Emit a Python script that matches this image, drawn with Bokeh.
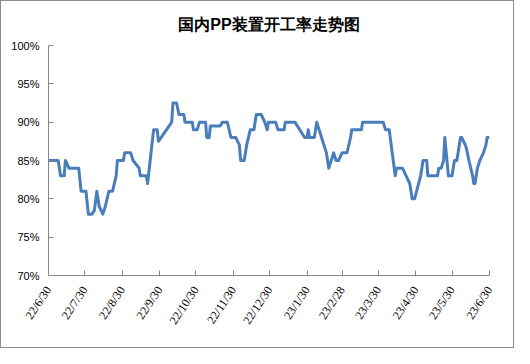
import pandas as pd
from bokeh.plotting import figure
from bokeh.models import ColumnDataSource, FixedTicker, Range1d
from bokeh.embed import file_html
from bokeh.resources import INLINE

title_text = "国内PP装置开工率走势图"

dates = [
    "2022-06-30", "2022-07-08", "2022-07-10", "2022-07-13", "2022-07-14", "2022-07-17",
    "2022-07-25", "2022-07-27", "2022-07-31", "2022-08-02", "2022-08-05", "2022-08-07",
    "2022-08-09", "2022-08-11", "2022-08-14", "2022-08-16", "2022-08-19", "2022-08-22",
    "2022-08-25", "2022-08-26", "2022-08-31", "2022-09-01", "2022-09-06", "2022-09-08",
    "2022-09-13", "2022-09-14", "2022-09-19", "2022-09-20", "2022-09-25", "2022-09-28",
    "2022-09-29", "2022-10-10", "2022-10-11", "2022-10-14", "2022-10-16", "2022-10-20",
    "2022-10-21", "2022-10-27", "2022-10-28", "2022-10-31", "2022-11-02", "2022-11-07",
    "2022-11-08", "2022-11-10", "2022-11-11", "2022-11-19", "2022-11-21", "2022-11-25",
    "2022-11-28", "2022-12-02", "2022-12-05", "2022-12-06", "2022-12-09", "2022-12-11",
    "2022-12-14", "2022-12-17", "2022-12-19", "2022-12-23", "2022-12-26", "2022-12-28",
    "2022-12-29", "2023-01-04", "2023-01-06", "2023-01-11", "2023-01-12", "2023-01-20",
    "2023-01-28", "2023-01-30", "2023-01-31", "2023-02-01", "2023-02-05", "2023-02-07",
    "2023-02-11", "2023-02-15", "2023-02-16", "2023-02-17", "2023-02-21", "2023-02-23",
    "2023-02-25", "2023-02-28", "2023-03-04", "2023-03-07", "2023-03-08", "2023-03-16",
    "2023-03-17", "2023-04-03", "2023-04-05", "2023-04-08", "2023-04-13", "2023-04-14",
    "2023-04-19", "2023-04-22", "2023-04-25", "2023-04-27", "2023-04-29", "2023-05-04",
    "2023-05-06", "2023-05-09", "2023-05-10", "2023-05-18", "2023-05-19", "2023-05-21",
    "2023-05-23", "2023-05-24", "2023-05-27", "2023-05-30", "2023-06-01", "2023-06-03",
    "2023-06-06", "2023-06-07", "2023-06-10", "2023-06-11", "2023-06-13", "2023-06-16",
    "2023-06-17", "2023-06-18", "2023-06-20", "2023-06-22", "2023-06-25", "2023-06-27",
    "2023-06-28", "2023-06-30",
]

rates = [
    85, 85, 83, 83, 85, 84,
    84, 81, 81, 78, 78, 78.5,
    81, 79, 78, 79, 81, 81,
    83, 85, 85, 86, 86, 85,
    84, 83, 83, 82, 89, 89,
    87.5, 90, 92.5, 92.5, 91, 91,
    90, 90, 89, 89, 90, 90,
    88, 88, 89.5, 89.5, 90, 90,
    88, 88, 87, 85, 85, 87,
    89, 89, 91, 91, 90, 89,
    90, 90, 89, 89, 90, 90,
    88, 88, 89, 88, 88, 90,
    88, 86, 85, 84, 86, 85,
    85, 86, 86, 88, 89, 89,
    90, 90, 89, 89, 83, 84,
    84, 83, 82, 80, 80, 83,
    85, 85, 83, 83, 84, 84,
    85, 88, 83, 83, 85, 85,
    88, 88, 87, 86.5, 85, 83,
    82, 82, 84, 85, 86, 87,
    88, 88,
]

tick_dates = [
    "2022-06-30", "2022-07-30", "2022-08-30", "2022-09-30", "2022-10-30", "2022-11-30",
    "2022-12-30", "2023-01-30", "2023-02-28", "2023-03-30", "2023-04-30", "2023-05-30",
    "2023-06-30",
]
tick_labels = [
    "22/6/30", "22/7/30", "22/8/30", "22/9/30", "22/10/30", "22/11/30",
    "22/12/30", "23/1/30", "23/2/28", "23/3/30", "23/4/30", "23/5/30", "23/6/30",
]

y_ticks = [70, 75, 80, 85, 90, 95, 100]
y_labels = ["70%", "75%", "80%", "85%", "90%", "95%", "100%"]


def to_ms(values):
    ts = pd.to_datetime(values)
    return [int((t - pd.Timestamp("1970-01-01")) / pd.Timedelta(milliseconds=1)) for t in ts]


src = ColumnDataSource(data=dict(x=pd.to_datetime(dates), y=rates))

tick_ms = to_ms(tick_dates)

p = figure(
    width=514, height=348,
    x_axis_type="datetime",
    output_backend="svg",
    toolbar_location=None,
    x_range=Range1d(tick_ms[0], tick_ms[-1]),
    y_range=Range1d(70, 100),
    min_border_left=47, min_border_right=26, min_border_top=44, min_border_bottom=74,
)

p.title.text = title_text
p.title.align = "center"
p.title.offset = -7
p.title.text_font = "Liberation Sans"
p.title.text_font_size = "16px"
p.title.text_font_style = "bold"
p.title.text_color = "#000000"
p.title.standoff = 25

p.line("x", "y", source=src, line_color="#4a7ebb", line_width=3, line_join="round")

p.xgrid.visible = False
p.ygrid.visible = False
p.outline_line_color = None

axis_col = "#868686"
for ax in (p.xaxis[0], p.yaxis[0]):
    ax.axis_line_color = axis_col
    ax.major_tick_line_color = axis_col
    ax.minor_tick_line_color = None
    ax.major_tick_in = 5
    ax.major_tick_out = 0
    ax.major_label_text_color = "#000000"

p.xaxis.ticker = FixedTicker(ticks=tick_ms)
p.xaxis.major_label_overrides = {t: l for t, l in zip(tick_ms, tick_labels)}
p.xaxis.major_label_orientation = 0.98
p.xaxis.major_label_text_font = "Liberation Serif"
p.xaxis.major_label_text_font_size = "12px"
p.xaxis.major_label_standoff = 12

p.yaxis.ticker = FixedTicker(ticks=y_ticks)
p.yaxis.major_label_overrides = {t: l for t, l in zip(y_ticks, y_labels)}
p.yaxis.major_label_text_font = "Liberation Sans"
p.yaxis.major_label_text_font_size = "11px"
p.yaxis.major_label_standoff = 9

p.styles = {"border": "1px solid #8c8c8c", "box-sizing": "border-box"}

open("out.html", "w").write(file_html(p, INLINE))
